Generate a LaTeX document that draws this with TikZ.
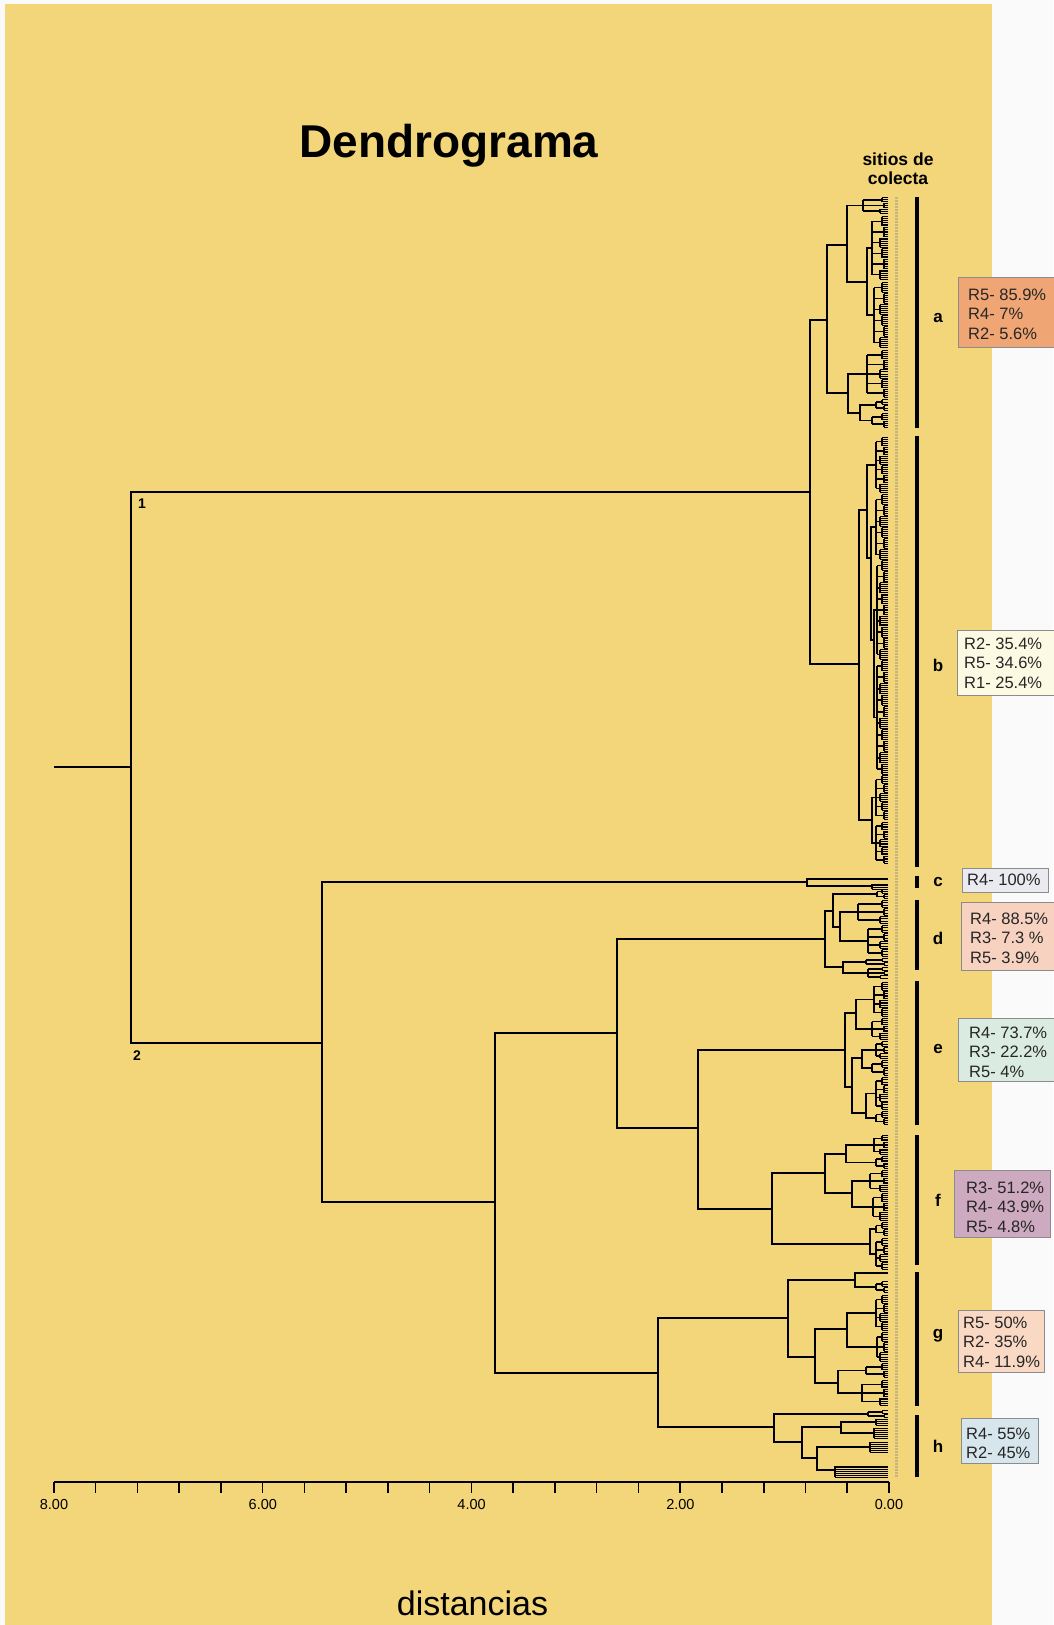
\documentclass[tikz,border=0pt]{standalone}
\usepackage{fontspec}
\setmainfont{Liberation Sans}
\definecolor{bgY}{RGB}{243,214,122}
\definecolor{cA}{RGB}{239,166,116}
\definecolor{cB}{RGB}{253,250,228}
\definecolor{cC}{RGB}{233,235,241}
\definecolor{cD}{RGB}{247,210,192}
\definecolor{cE}{RGB}{218,236,226}
\definecolor{cF}{RGB}{205,170,192}
\definecolor{cG}{RGB}{249,216,196}
\definecolor{cH}{RGB}{214,230,236}
\definecolor{lblc}{RGB}{196,180,125}
\tikzset{
  br/.style={line width=1.9pt, line join=miter},
  sb/.style={line width=1.6pt},
  tipl/.style={line width=1.5pt},
  leafl/.style={line width=1pt},
  gbar/.style={line width=4pt},
  boxn/.style={draw=black!45, line width=0.8pt, inner sep=0pt, rectangle},
  btxt/.style={font=\fontsize{16.5}{19.5}\selectfont, align=left, inner sep=0pt, text=black!85, anchor=west},
  lettr/.style={font=\bfseries\fontsize{17}{19}\selectfont, inner sep=0pt},
  axl/.style={font=\fontsize{14.5}{16}\selectfont, inner sep=0pt},
}
% dendrogram helpers
\newcommand\nd[5]{\draw[br] (#4,#2) -- (#1,#2) -- (#1,#3) -- (#5,#3);}
\newcommand\tpin[3]{%
  \draw[tipl] (#1,#2) -- (#1,#3);
  \pgfmathtruncatemacro\tpN{max(1,round((#3-#2)/2.0))}%
  \foreach \q in {0,...,\tpN}{%
    \pgfmathsetmacro\tpY{#2+\q*(#3-#2)/\tpN}%
    \draw[leafl] (#1,\tpY) -- (888,\tpY);
  }%
}
\newcommand\grp[4]{%
  \pgfmathsetmacro\grH{(#3-#2)/#4}%
  \draw[sb] (#1,{#2+\grH/2}) -- (#1,{#3-\grH/2});
  \foreach \j in {1,...,#4}{%
    \pgfmathsetmacro\grS{#2+(\j-1)*\grH+0.7}%
    \pgfmathsetmacro\grE{#2+\j*\grH-0.7}%
    \pgfmathsetmacro\grM{(\grS+\grE)/2}%
    \pgfmathsetmacro\grX{880+2*mod(\j,3)}%
    \draw[sb] (#1,\grM) -- (\grX,\grM);
    \tpin{\grX}{\grS}{\grE}%
  }%
}
\begin{document}
\begin{tikzpicture}[x=1pt,y=-1pt]
\useasboundingbox (0,0) rectangle (1053,1625);
\fill[white!98!black] (0,0) rectangle (1053,1625);
\fill[bgY] (5,4) rectangle (992,1625);

% titles
\node[font=\bfseries\fontsize{46}{50}\selectfont, anchor=base, inner sep=0pt] (title) at (449,157) {Dendrograma};
\node[font=\bfseries\fontsize{17.5}{19}\selectfont, align=center, inner sep=0pt] (sitios) at (898,169) {sitios de\\colecta};
\node[font=\fontsize{34}{40}\selectfont, anchor=base, inner sep=0pt] (dist) at (472.5,1615) {distancias};

% ---------- main tree ----------
\draw[br] (54,767) -- (131,767);
\draw[br] (810,492) -- (131,492) -- (131,1043) -- (322,1043);
\draw[line width=2.6pt] (131,797) -- (131,1043);
\node[font=\bfseries\fontsize{14}{16}\selectfont, inner sep=0pt] (n1) at (142,504) {1};
\node[font=\bfseries\fontsize{14}{16}\selectfont, inner sep=0pt] (n2) at (137,1056) {2};

% cluster 1
\nd{810}{320}{664}{827}{859}
% A
\nd{827}{245}{393}{847}{848}
\nd{847}{205.5}{282}{863}{867}
\grp{863}{197}{214}{3}
\nd{867}{248}{315}{872}{874}
\grp{872}{216}{280}{6}
\grp{874}{282}{348}{6}
\nd{848}{374}{413}{867}{860}
\grp{867}{350}{398}{5}
\nd{860}{405}{420.5}{876}{872}
\grp{876}{399}{411}{2}
\grp{872}{413}{428}{2}
% B
\nd{859}{510}{820}{867}{872}
\nd{867}{465}{558}{876}{871}
\grp{876}{437}{493}{6}
\nd{871}{527}{640}{876}{874}
\grp{876}{494}{560}{6}
\nd{874}{610}{717.5}{877}{877}
\grp{877}{560}{660}{9}
\grp{877}{660}{775}{10}
\nd{872}{797.5}{843}{876}{876}
\grp{876}{775}{820}{5}
\grp{876}{822}{864}{5}

% cluster 2
\nd{322}{882}{1202}{807}{495}
% C
\draw[br] (888,879) -- (807,879) -- (807,886) -- (872,886);
\tpin{872}{884}{889}
\nd{495}{1033}{1373}{617}{658}
\nd{617}{939}{1128}{825}{698}
% D
\nd{825}{911}{967}{833}{843}
\nd{833}{894}{927}{877}{840}
\grp{877}{889}{899}{2}
\nd{840}{912}{941}{858}{868}
\grp{858}{900}{924}{3}
\grp{868}{925}{957}{4}
\nd{843}{962}{973}{866}{868}
\grp{866}{958}{966}{2}
\grp{868}{967}{979}{3}
% E/F
\nd{698}{1050}{1209}{845}{772}
\nd{845}{1013}{1087}{856}{852}
\nd{856}{999.5}{1029}{874}{872}
\grp{874}{982}{1017}{4}
\grp{872}{1018}{1040}{3}
\nd{852}{1058}{1113}{862}{866}
\nd{862}{1050}{1068}{876}{872}
\grp{876}{1041}{1059}{3}
\grp{872}{1060}{1076}{2}
\nd{866}{1093.5}{1118}{876}{876}
\grp{876}{1077}{1110}{4}
\grp{876}{1111}{1125}{2}
% F
\nd{772}{1173}{1244}{825}{870}
\nd{825}{1154}{1193}{846}{852}
\nd{846}{1145}{1162.5}{874}{876}
\grp{874}{1135}{1155}{3}
\grp{876}{1156}{1169}{2}
\nd{852}{1181}{1207}{870}{873}
\grp{870}{1170}{1192}{3}
\grp{873}{1193}{1221}{3}
\nd{870}{1229}{1254}{876}{876}
\grp{876}{1222}{1236}{2}
\grp{876}{1238}{1270}{4}
% G/H
\nd{658}{1318}{1427}{788}{774}
\nd{788}{1280}{1357}{855}{815}
\draw[br] (888,1273) -- (855,1273) -- (855,1287) -- (876,1287);
\grp{876}{1281}{1293}{2}
\nd{815}{1329}{1383}{847}{838}
\nd{847}{1313}{1347}{876}{877}
\grp{876}{1295}{1331}{4}
\grp{877}{1332}{1362}{3}
\nd{838}{1370.5}{1393}{866}{862}
\grp{866}{1363}{1378}{2}
\grp{862}{1380}{1406}{3}
% H
\nd{774}{1414}{1442}{868}{802}
\grp{868}{1410}{1418}{2}
\nd{802}{1427}{1458}{841}{817}
\nd{841}{1422}{1433}{876}{874}
\tpin{876}{1419}{1425}
\tpin{874}{1428}{1438}
\nd{817}{1447}{1470}{870}{835}
\tpin{870}{1442}{1452}
\tpin{835}{1466}{1477}

% leaf labels column (illegible tiny labels)
\draw[lblc, line width=3pt, dash pattern=on 1.5pt off 1.5pt] (896,197) -- (896,1477);

% ---------- axis ----------
\draw[br] (54,1482) -- (889,1482);
\foreach \i in {0,...,20} \draw[line width=1.6pt] ({889-41.76*\i},1482) -- ({889-41.76*\i},1493);
\node[axl] (t8) at (54,1504) {8.00};
\node[axl] (t6) at (262.8,1504) {6.00};
\node[axl] (t4) at (471.6,1504) {4.00};
\node[axl] (t2) at (680.4,1504) {2.00};
\node[axl] (t0) at (889,1504) {0.00};

% ---------- group bars ----------
\draw[gbar] (917,197) -- (917,428);
\draw[gbar] (917,436) -- (917,867);
\draw[gbar] (917,876) -- (917,888);
\draw[gbar] (917,900) -- (917,970);
\draw[gbar] (917,981) -- (917,1125);
\draw[gbar] (917,1135) -- (917,1265);
\draw[gbar] (917,1272) -- (917,1406);
\draw[gbar] (917,1415) -- (917,1477);

\node[lettr] (la) at (938,318) {a};
\node[lettr] (lb) at (938,665) {b};
\node[lettr] (lc) at (938,882) {c};
\node[lettr] (ld) at (938,938) {d};
\node[lettr] (le) at (938,1049) {e};
\node[lettr] (lf) at (938,1200) {f};
\node[lettr] (lg) at (938,1336) {g};
\node[lettr] (lh) at (938,1446) {h};

% ---------- boxes ----------
\node[boxn, fill=cA, minimum width=97pt, minimum height=70pt] (ba) at (1006.5,312) {};
\node[btxt] (ta) at (968,314) {R5- 85.9\%\\R4- 7\%\\R2- 5.6\%};
\node[boxn, fill=cB, minimum width=97pt, minimum height=65pt] (bb) at (1005.5,662.5) {};
\node[btxt] (tb) at (964,663) {R2- 35.4\%\\R5- 34.6\%\\R1- 25.4\%};
\node[boxn, fill=cC, minimum width=86pt, minimum height=24pt] (bc) at (1005,880) {};
\node[btxt] (tc) at (967,880) {R4- 100\%};
\node[boxn, fill=cD, minimum width=93pt, minimum height=68pt] (bd) at (1007.5,936) {};
\node[btxt] (td) at (970,938) {R4- 88.5\%\\R3- 7.3 \%\\R5- 3.9\%};
\node[boxn, fill=cE, minimum width=96pt, minimum height=63pt] (be) at (1006,1049.5) {};
\node[btxt] (te) at (969,1052) {R4- 73.7\%\\R3- 22.2\%\\R5- 4\%};
\node[boxn, fill=cF, minimum width=96pt, minimum height=67pt] (bf) at (1002,1203.5) {};
\node[btxt] (tf) at (966,1207) {R3- 51.2\%\\R4- 43.9\%\\R5- 4.8\%};
\node[boxn, fill=cG, minimum width=86pt, minimum height=62pt] (bg) at (1001,1341) {};
\node[btxt] (tg) at (963,1342) {R5- 50\%\\R2- 35\%\\R4- 11.9\%};
\node[boxn, fill=cH, minimum width=77pt, minimum height=45pt] (bh) at (999.5,1440.5) {};
\node[btxt] (th) at (966,1443.5) {R4- 55\%\\R2- 45\%};
\end{tikzpicture}
\end{document}
